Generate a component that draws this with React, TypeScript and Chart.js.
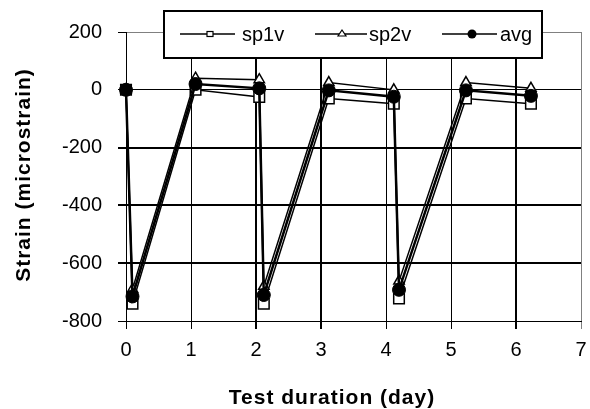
import React, { useEffect, useRef } from 'react';
import { Chart, registerables } from 'chart.js';
Chart.register(...registerables);

const days = [0, 0.1, 1.07, 2.05, 2.12, 3.12, 4.12, 4.2, 5.23, 6.23];
const sp1v = [0, -740, 0, -25, -740, -30, -48, -722, -30, -48];
const sp2v = [0, -690, 40, 35, -680, 25, 0, -662, 25, 5];
const avg = [0, -715, 20, 5, -710, -2, -24, -692, -2, -21];
const seriesNames = ['sp1v', 'sp2v', 'avg'];
const xTitle = 'Test duration (day)';
const yTitle = 'Strain (microstrain)';
const xMin = 0, xMax = 7, xStep = 1;
const yMin = -800, yMax = 200, yStep = 200;

const FONT = '"Liberation Sans", Arial, sans-serif';

const pts = (ys: number[]) => ys.map((y, i) => ({ x: days[i], y }));

const overlay = {
  id: 'overlay',
  afterDraw(chart: any) {
    const ctx = chart.ctx as CanvasRenderingContext2D;
    ctx.save();
    ctx.fillStyle = '#000';
    ctx.font = `bold 21px ${FONT}`;
    (ctx as any).letterSpacing = '1px';
    ctx.textAlign = 'center';
    ctx.textBaseline = 'middle';
    ctx.fillText(xTitle, 332, 398);
    ctx.save();
    ctx.translate(24, 175);
    ctx.rotate(-Math.PI / 2);
    ctx.fillText(yTitle, 0, 0);
    ctx.restore();
    (ctx as any).letterSpacing = '0px';

    ctx.fillStyle = '#fff';
    ctx.fillRect(163, 10, 380, 49);
    ctx.strokeStyle = '#000';
    ctx.lineWidth = 2;
    ctx.strokeRect(164, 11, 378, 47);

    const ly = 34;
    const items = [
      { x0: 180, x1: 235, mx: 210, tx: 242, kind: 'rect' },
      { x0: 315, x1: 367, mx: 342, tx: 369, kind: 'tri' },
      { x0: 442, x1: 497, mx: 472, tx: 500, kind: 'circ' },
    ];
    ctx.font = `20px ${FONT}`;
    ctx.textAlign = 'left';
    items.forEach((it, i) => {
      ctx.strokeStyle = '#000';
      ctx.lineWidth = 1.5;
      ctx.beginPath();
      ctx.moveTo(it.x0, ly);
      ctx.lineTo(it.x1, ly);
      ctx.stroke();
      ctx.lineWidth = 1.2;
      if (it.kind === 'rect') {
        ctx.fillStyle = '#fff';
        ctx.fillRect(it.mx - 3, ly - 2.5, 6, 5);
        ctx.strokeRect(it.mx - 3, ly - 2.5, 6, 5);
      } else if (it.kind === 'tri') {
        ctx.fillStyle = '#fff';
        ctx.beginPath();
        ctx.moveTo(it.mx, ly - 4);
        ctx.lineTo(it.mx + 4, ly + 2);
        ctx.lineTo(it.mx - 4, ly + 2);
        ctx.closePath();
        ctx.fill();
        ctx.stroke();
      } else {
        ctx.fillStyle = '#000';
        ctx.beginPath();
        ctx.arc(it.mx, ly, 4.5, 0, Math.PI * 2);
        ctx.fill();
      }
      ctx.fillStyle = '#000';
      ctx.fillText(seriesNames[i], it.tx, ly + 1);
    });
    ctx.restore();
  },
};

export default function App() {
  const ref = useRef<HTMLCanvasElement>(null);
  useEffect(() => {
    if (!ref.current) return;
    const chart = new Chart(ref.current, {
      type: 'scatter',
      data: {
        datasets: [
          {
            label: seriesNames[0],
            data: pts(sp1v),
            order: 2,
            showLine: true,
            borderColor: '#000',
            borderWidth: 1.5,
            pointStyle: 'rect',
            pointRadius: 7.5,
            pointBackgroundColor: '#fff',
            pointBorderColor: '#000',
            pointBorderWidth: 1.5,
            clip: false,
          } as any,
          {
            label: seriesNames[1],
            data: pts(sp2v),
            order: 1,
            showLine: true,
            borderColor: '#000',
            borderWidth: 1.5,
            pointStyle: 'triangle',
            pointRadius: 6,
            pointBackgroundColor: '#fff',
            pointBorderColor: '#000',
            pointBorderWidth: 1.5,
            clip: false,
          } as any,
          {
            label: seriesNames[2],
            data: pts(avg),
            order: 0,
            showLine: true,
            borderColor: '#000',
            borderWidth: 2.5,
            pointStyle: 'circle',
            pointRadius: 6.5,
            pointBackgroundColor: '#000',
            pointBorderColor: '#000',
            pointBorderWidth: 1,
            clip: false,
          } as any,
        ],
      },
      options: {
        responsive: false,
        animation: false,
        events: [],
        layout: { padding: { top: 32, right: 3, left: 0, bottom: 0 } },
        plugins: { legend: { display: false }, tooltip: { enabled: false } },
        scales: {
          x: {
            type: 'linear',
            min: xMin,
            max: xMax,
            afterFit: (s: any) => {
              s.height = 88;
              s.paddingLeft = 0;
              s.paddingRight = 0;
            },
            ticks: {
              stepSize: xStep,
              color: '#000',
              font: { family: FONT, size: 20 },
              padding: 9,
              maxRotation: 0,
            },
            grid: {
              color: (c: any) => (c.tick && c.tick.value === xMax ? '#808080' : '#000'),
              tickColor: (c: any) => (c.tick && c.tick.value === xMax ? '#808080' : '#000'),
              lineWidth: (c: any) => (c.tick && [2, 3, 6].includes(c.tick.value) ? 2 : 1),
              tickLength: 8,
            },
            border: { color: '#000', width: 1 },
          },
          y: {
            type: 'linear',
            min: yMin,
            max: yMax,
            afterFit: (s: any) => {
              s.width = 126;
              s.paddingTop = 0;
              s.paddingBottom = 0;
            },
            ticks: {
              stepSize: yStep,
              color: '#000',
              font: { family: FONT, size: 20 },
              padding: 16,
            },
            grid: {
              color: (c: any) => (c.tick && c.tick.value === yMax ? '#808080' : '#000'),
              tickColor: '#000',
              lineWidth: (c: any) => (c.tick && [-200, -400, -600].includes(c.tick.value) ? 2 : 1),
              tickLength: 8,
            },
            border: { color: '#000', width: 1 },
          },
        },
      },
      plugins: [overlay],
    });
    return () => chart.destroy();
  }, []);
  return (
    <div style={{ position: 'fixed', left: 0, top: 0, width: 590, height: 409, background: '#fff' }}>
      <canvas ref={ref} width={590} height={409} />
    </div>
  );
}
